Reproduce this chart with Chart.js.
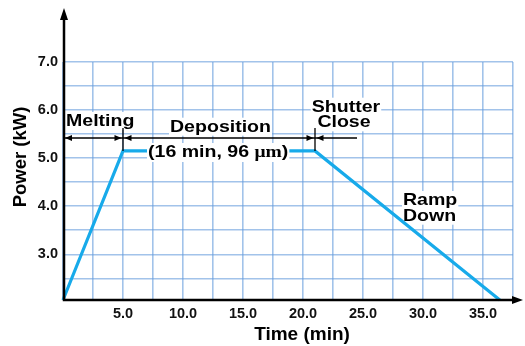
<!DOCTYPE html>
<html>
<head>
<meta charset="utf-8">
<script src="https://cdn.jsdelivr.net/npm/chart.js@4.4.1/dist/chart.umd.min.js"></script>
<style>
    html, body { margin: 0; padding: 0; background: #fff; }
    #wrap { width: 525px; height: 346px; }
</style>
</head>
<body>
<div id="wrap"><canvas id="chart" width="525" height="346"></canvas></div>
<script>
// power profile: time (min) vs power (kW)
var timeMin = [0, 5, 21, 36.4];
var powerKw = [2.05, 5.15, 5.15, 2.05];
var xTicks = [5, 10, 15, 20, 25, 30, 35];
var yTicks = [3, 4, 5, 6, 7];
var meltEnd = 5, shutterAt = 21;

var SANS = '"Liberation Sans", Arial, sans-serif';
var SERIF = '"Liberation Serif", "Times New Roman", serif';
var noteFont = 'bold 17px ' + SANS;
var SX = 1.15; // annotation lettering is a bit wide

var notes = [
    { text: 'Melting', x: 66, y: 126, align: 'left' },
    { text: 'Deposition', x: 170, y: 131.7, align: 'left' },
    { text: 'Shutter', x: 346, y: 111.7, align: 'center' },
    { text: 'Close', x: 344, y: 127.3, align: 'center' },
    { text: 'Ramp', x: 403, y: 205, align: 'left' },
    { text: 'Down', x: 403, y: 220.7, align: 'left' }
];
var parenParts = [
    { t: '(16 min, 96 ', f: noteFont },
    { t: '\u03BCm', f: 'bold 17px ' + SERIF },
    { t: ')', f: noteFont }
];

function textW(ctx, str, font) {
    ctx.font = font;
    return ctx.measureText(str).width * SX;
}

function noteLeft(ctx, n) {
    var w = textW(ctx, n.text, noteFont);
    return n.align === 'center' ? n.x - w / 2 : n.x;
}

function drawStretched(ctx, str, x, y, font) {
    ctx.save();
    ctx.font = font;
    ctx.fillStyle = '#000';
    ctx.textAlign = 'left';
    ctx.textBaseline = 'alphabetic';
    ctx.translate(x, y);
    ctx.scale(SX, 1);
    ctx.fillText(str, 0, 0);
    ctx.restore();
}

function arrowHead(ctx, x, y, dir) {
    ctx.beginPath();
    ctx.moveTo(x, y);
    ctx.lineTo(x - dir * 7, y - 3);
    ctx.lineTo(x - dir * 7, y + 3);
    ctx.closePath();
    ctx.fill();
}

var overlay = {
    id: 'overlay',
    beforeDatasetsDraw: function (chart) {
        var ctx = chart.ctx;
        ctx.save();
        ctx.fillStyle = '#fff';
        notes.forEach(function (n) {
            var w = textW(ctx, n.text, noteFont);
            ctx.fillRect(noteLeft(ctx, n) - 1, n.y - 14, w + 2, 18);
        });
        ctx.restore();
    },
    afterDatasetsDraw: function (chart) {
        var ctx = chart.ctx,
            xs = chart.scales.x,
            ys = chart.scales.y;

        // "(16 min, 96 um)" sits on a white box over the plateau
        var px = 148, py = 157, total = 0;
        parenParts.forEach(function (p) { total += textW(ctx, p.t, p.f); });
        ctx.save();
        ctx.fillStyle = '#fff';
        ctx.fillRect(px - 1, py - 14, total + 2, 19);
        ctx.restore();
        parenParts.forEach(function (p) {
            drawStretched(ctx, p.t, px, py, p.f);
            px += textW(ctx, p.t, p.f);
        });

        notes.forEach(function (n) {
            drawStretched(ctx, n.text, noteLeft(ctx, n), n.y, noteFont);
        });

        // phase arrows
        var ay = 138,
            x0 = chart.chartArea.left + 1,
            x5 = xs.getPixelForValue(meltEnd),
            x21 = xs.getPixelForValue(shutterAt),
            xEnd = xs.getPixelForValue(24.5),
            yPlat = ys.getPixelForValue(powerKw[1]);
        ctx.save();
        ctx.strokeStyle = '#000';
        ctx.fillStyle = '#000';
        ctx.lineWidth = 1.3;
        ctx.beginPath();
        ctx.moveTo(x0, ay); ctx.lineTo(xEnd, ay);
        ctx.moveTo(x5, 128); ctx.lineTo(x5, yPlat);
        ctx.moveTo(x21, 128); ctx.lineTo(x21, yPlat);
        ctx.stroke();
        arrowHead(ctx, x0 + 1, ay, -1);
        arrowHead(ctx, x5 - 1.5, ay, 1);
        arrowHead(ctx, x5 + 1.5, ay, -1);
        arrowHead(ctx, x21 - 1.5, ay, 1);
        arrowHead(ctx, x21 + 1.5, ay, -1);
        ctx.restore();
    },
    afterDraw: function (chart) {
        var ctx = chart.ctx,
            a = chart.chartArea,
            ax = a.left + 1,
            by = a.bottom;
        ctx.save();
        ctx.strokeStyle = '#000';
        ctx.fillStyle = '#000';
        ctx.lineWidth = 2.5;
        ctx.beginPath();
        ctx.moveTo(ax, by + 1.2); ctx.lineTo(ax, 18);
        ctx.moveTo(ax - 1.2, by); ctx.lineTo(512, by);
        ctx.stroke();
        ctx.beginPath();
        ctx.moveTo(ax, 8); ctx.lineTo(ax - 4, 20); ctx.lineTo(ax + 4, 20);
        ctx.closePath(); ctx.fill();
        ctx.beginPath();
        ctx.moveTo(523, by); ctx.lineTo(512, by - 4); ctx.lineTo(512, by + 4);
        ctx.closePath(); ctx.fill();

        // axis titles
        ctx.font = 'bold 19px ' + SANS;
        ctx.textAlign = 'center';
        ctx.textBaseline = 'alphabetic';
        ctx.fillText('Time (min)', 302, 340);
        ctx.translate(21, 157);
        ctx.rotate(-Math.PI / 2);
        ctx.font = 'bold 18.5px ' + SANS;
        ctx.textBaseline = 'middle';
        ctx.fillText('Power (kW)', 0, 0);
        ctx.restore();
    }
};

var gridColor = 'rgba(100, 155, 220, 0.6)';
var tickFont = { family: SANS, size: 14.5, weight: 'bold' };

new Chart(document.getElementById('chart').getContext('2d'), {
    type: 'line',
    plugins: [overlay],
    data: {
        datasets: [
            {
                data: timeMin.map(function (t, i) { return { x: t, y: powerKw[i] }; }),
                borderColor: '#17aaea',
                borderWidth: 3.2,
                pointRadius: 0,
                fill: false,
                tension: 0,
                clip: false
            }
        ]
    },
    options: {
        responsive: false,
        animation: false,
        devicePixelRatio: 1,
        layout: { padding: { top: 62, right: 12, left: 0, bottom: 0 } },
        scales: {
            x: {
                type: 'linear',
                min: 0,
                max: 37.5,
                afterFit: function (s) { s.height = 46; },
                border: { display: false },
                grid: { color: gridColor, lineWidth: 1.6, drawTicks: false },
                ticks: {
                    stepSize: 2.5,
                    autoSkip: false,
                    maxRotation: 0,
                    padding: 5,
                    color: '#111',
                    font: tickFont,
                    callback: function (value) {
                        return xTicks.indexOf(value) >= 0 ? value.toFixed(1) : '';
                    }
                }
            },
            y: {
                min: 2.05,
                max: 7,
                afterFit: function (s) { s.width = 63; },
                border: { display: false },
                grid: { color: gridColor, lineWidth: 1.6, drawTicks: false },
                ticks: {
                    stepSize: 0.5,
                    autoSkip: false,
                    padding: 5,
                    color: '#111',
                    font: tickFont,
                    callback: function (value) {
                        return yTicks.indexOf(value) >= 0 ? value.toFixed(1) : '';
                    }
                }
            }
        },
        plugins: {
            legend: { display: false },
            tooltip: { enabled: false }
        }
    }
});
</script>
</body>
</html>
